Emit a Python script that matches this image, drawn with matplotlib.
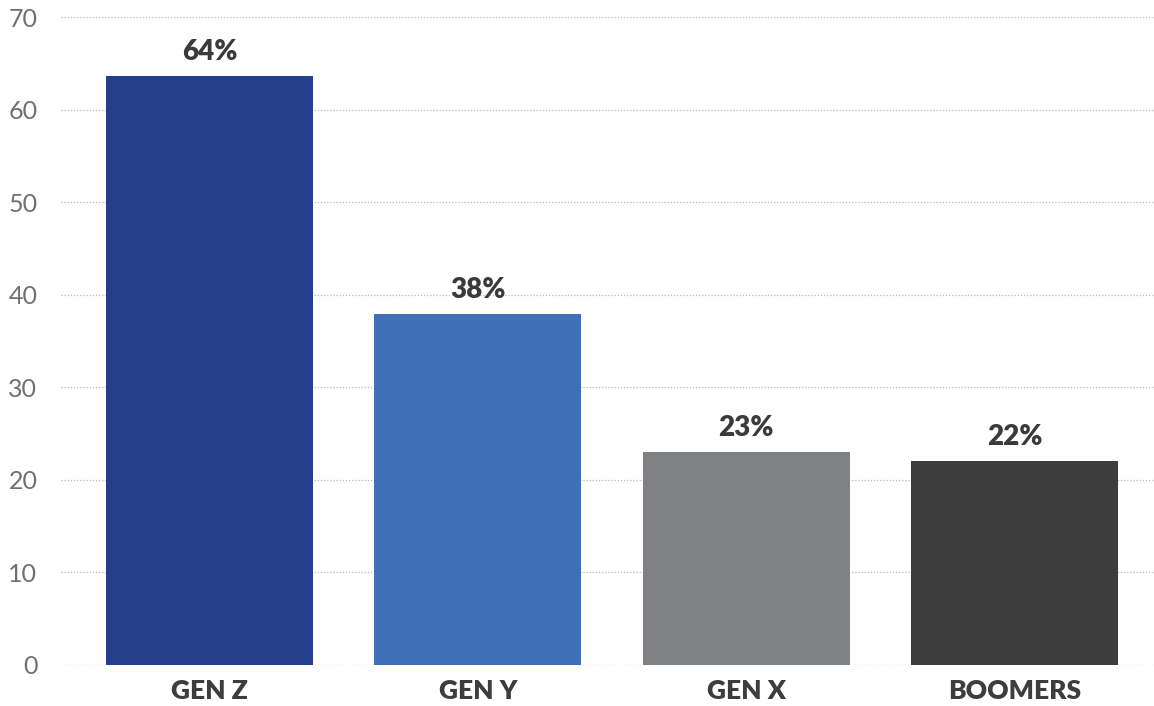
import matplotlib
matplotlib.use("Agg")
import matplotlib.pyplot as plt

categories = ["GEN Z", "GEN Y", "GEN X", "BOOMERS"]
values = [63.6, 37.9, 23.0, 22.0]
colors = ["#243e8c", "#416fb8", "#808184", "#3d3d3d"]
y_ticks = [0, 10, 20, 30, 40, 50, 60, 70]

fig = plt.figure(figsize=(11.54, 7.06), dpi=100)
ax = fig.add_axes([61 / 1154, 41 / 706, 1 - 61 / 1154, (665 - 17) / 706])

x = list(range(len(categories)))
bars = ax.bar(x, values, width=0.772, color=colors, zorder=3)

for xi, v in zip(x, values):
    ax.annotate(f"{round(v):.0f}%", (xi, v), xytext=(0, 8), textcoords="offset points",
                ha="center", va="bottom", fontsize=20, fontweight="heavy",
                family="Lato", color="#3a3a3a")

ax.set_xlim(-0.554, 3.52)
ax.set_ylim(0, 70)
ax.set_yticks(y_ticks)
ax.set_yticklabels([str(t) for t in y_ticks], family="Lato", fontsize=18,
                   color="#707070", fontweight="normal")
ax.set_xticks(x)
ax.set_xticklabels(categories, family="Lato", fontsize=19, fontweight="heavy",
                   color="#3d3d3d")
ax.tick_params(axis="y", length=0, pad=17)
ax.tick_params(axis="x", length=0, pad=10)

ax.grid(axis="y", linestyle=(0, (1, 1.5)), color="#b8b8b8", linewidth=0.9, zorder=0)
ax.set_axisbelow(True)
for s in ax.spines.values():
    s.set_visible(False)

fig.savefig("out.png", dpi=100, facecolor="white")
